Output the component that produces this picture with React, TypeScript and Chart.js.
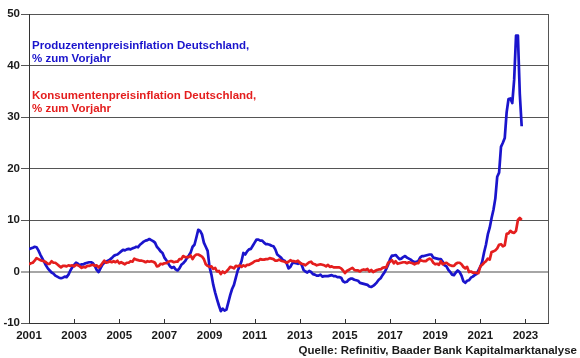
import React, { useEffect, useRef } from "react";
import { Chart, registerables } from "chart.js";

Chart.register(...registerables);

// Monthly year-over-year rates, Jan 2001 .. Nov 2022
const START_YEAR = 2001;

const ppi: number[] = [
  // 2001
  4.3, 4.5, 4.6, 4.8, 4.7, 4.1, 3.3, 2.6, 1.9, 1.2, 0.6, 0.2,
  // 2002
  -0.2, -0.4, -0.8, -1.0, -1.2, -1.3, -1.2, -1.0, -1.1, -0.6, 0.2, 0.8,
  // 2003
  1.3, 1.7, 1.5, 1.2, 1.4, 1.4, 1.6, 1.7, 1.8, 1.8, 1.6, 1.1,
  // 2004
  0.3, -0.1, 0.6, 1.3, 1.7, 1.9, 2.1, 2.3, 2.6, 3.0, 3.2, 3.3,
  // 2005
  3.6, 3.9, 4.2, 4.1, 4.3, 4.4, 4.3, 4.5, 4.6, 4.8, 4.7, 5.2,
  // 2006
  5.5, 5.8, 6.0, 6.1, 6.3, 6.1, 5.9, 5.6, 4.8, 4.4, 3.9, 3.6,
  // 2007
  2.7, 2.2, 1.6, 1.0, 0.7, 0.9, 0.4, 0.2, 0.6, 1.3, 1.6, 2.0,
  // 2008
  2.6, 3.1, 3.7, 4.8, 5.2, 6.6, 8.1, 7.9, 7.2, 5.6, 4.8, 4.0,
  // 2009
  0.9, -0.6, -2.6, -4.1, -5.4, -6.6, -7.7, -7.2, -7.6, -7.4, -6.0, -4.6,
  // 2010
  -3.4, -2.6, -1.2, 0.2, 1.0, 2.0, 3.6, 3.3, 3.9, 4.3, 4.4, 5.0,
  // 2011
  5.6, 6.2, 6.2, 6.0, 6.0, 5.6, 5.3, 5.3, 5.2, 5.0, 4.9, 4.3,
  // 2012
  3.3, 3.0, 2.7, 2.2, 2.1, 1.6, 0.6, 0.9, 1.6, 1.7, 1.6, 1.5,
  // 2013
  1.7, 1.3, 0.3, 0.0, -0.2, 0.1, -0.1, -0.5, -0.6, -0.8, -0.8, -0.6,
  // 2014
  -1.0, -0.9, -0.9, -0.9, -0.8, -0.7, -0.9, -0.9, -1.1, -1.1, -1.2, -1.9,
  // 2015
  -2.1, -2.0, -1.6, -1.4, -1.4, -1.6, -1.7, -1.8, -2.2, -2.3, -2.4, -2.5,
  // 2016
  -2.6, -2.9, -3.0, -2.8, -2.5, -2.1, -1.6, -1.3, -0.7, -0.2, 0.5, 1.3,
  // 2017
  2.4, 3.1, 3.1, 3.2, 2.8, 2.4, 2.5, 2.8, 3.0, 2.7, 2.5, 2.3,
  // 2018
  2.0, 1.8, 1.9, 2.0, 2.7, 3.0, 3.0, 3.1, 3.2, 3.3, 3.3, 2.7,
  // 2019
  2.6, 2.5, 2.4, 2.4, 1.9, 1.2, 1.0, 0.3, -0.1, -0.6, -0.7, -0.2,
  // 2020
  0.2, -0.1, -0.8, -1.9, -2.2, -1.8, -1.7, -1.2, -1.0, -0.7, -0.5, 0.2,
  // 2021
  0.9, 1.9, 3.7, 5.2, 7.2, 8.5, 10.4, 12.0, 14.2, 18.4, 19.2, 24.2,
  // 2022
  25.0, 25.9, 30.9, 33.5, 33.6, 32.7, 37.2, 45.8, 45.8, 34.5, 28.2,
];

const cpi: number[] = [
  // 2001
  1.4, 1.6, 1.7, 2.1, 2.6, 2.4, 2.2, 2.1, 2.0, 1.8, 1.5, 1.5,
  // 2002
  2.0, 1.7, 1.7, 1.4, 1.1, 0.8, 1.1, 1.1, 1.0, 1.2, 1.1, 1.2,
  // 2003
  1.0, 1.3, 1.2, 1.0, 0.7, 0.9, 0.8, 1.1, 1.1, 1.2, 1.3, 1.1,
  // 2004
  1.2, 0.8, 1.1, 1.6, 2.1, 1.7, 1.8, 2.0, 1.8, 2.0, 1.8, 2.1,
  // 2005
  1.6, 1.8, 1.6, 1.4, 1.7, 1.7, 2.0, 1.9, 2.5, 2.3, 2.2, 2.1,
  // 2006
  2.1, 2.0, 1.8, 2.0, 1.9, 2.0, 1.9, 1.7, 1.0, 1.1, 1.5, 1.4,
  // 2007
  1.6, 1.6, 1.9, 2.0, 2.0, 1.8, 1.9, 1.9, 2.4, 2.4, 3.0, 2.8,
  // 2008
  2.8, 2.8, 3.1, 2.4, 3.0, 3.3, 3.3, 3.1, 2.9, 2.4, 1.4, 1.1,
  // 2009
  0.9, 1.0, 0.5, 0.7, 0.0, 0.1, -0.5, 0.0, -0.3, 0.0, 0.4, 0.9,
  // 2010
  0.8, 0.6, 1.1, 1.0, 1.2, 0.9, 1.2, 1.0, 1.3, 1.3, 1.5, 1.7,
  // 2011
  2.0, 2.1, 2.1, 2.4, 2.3, 2.3, 2.4, 2.4, 2.6, 2.5, 2.4, 2.1,
  // 2012
  2.1, 2.3, 2.1, 2.0, 1.9, 1.7, 1.9, 2.2, 2.0, 2.0, 1.9, 2.1,
  // 2013
  1.7, 1.5, 1.4, 1.2, 1.5, 1.8, 1.9, 1.5, 1.4, 1.2, 1.3, 1.4,
  // 2014
  1.3, 1.2, 1.0, 1.3, 0.9, 1.0, 0.8, 0.8, 0.8, 0.8, 0.6, 0.2,
  // 2015
  -0.3, 0.1, 0.3, 0.5, 0.7, 0.3, 0.2, 0.2, 0.0, 0.3, 0.4, 0.3,
  // 2016
  0.5, 0.0, 0.3, -0.1, 0.1, 0.3, 0.4, 0.4, 0.7, 0.8, 0.8, 1.7,
  // 2017
  1.9, 2.2, 1.6, 2.0, 1.5, 1.6, 1.7, 1.8, 1.8, 1.6, 1.8, 1.7,
  // 2018
  1.6, 1.4, 1.6, 1.6, 2.2, 2.1, 2.0, 2.0, 2.3, 2.5, 2.3, 1.7,
  // 2019
  1.4, 1.5, 1.3, 2.0, 1.4, 1.6, 1.7, 1.4, 1.2, 1.1, 1.1, 1.5,
  // 2020
  1.7, 1.7, 1.4, 0.9, 0.6, 0.9, -0.1, 0.0, -0.2, -0.2, -0.3, -0.3,
  // 2021
  1.0, 1.3, 1.7, 2.0, 2.5, 2.3, 3.8, 3.9, 4.1, 4.5, 5.2, 5.3,
  // 2022
  4.9, 5.1, 7.3, 7.4, 7.9, 7.6, 7.5, 7.9, 10.0, 10.4, 10.0,
];

const xTickYears: number[] = [2001, 2003, 2005, 2007, 2009, 2011, 2013, 2015, 2017, 2019, 2021, 2023];
const yTicks: number[] = [-10, 0, 10, 20, 30, 40, 50];

const ppiLabel = ["Produzentenpreisinflation Deutschland,", "% zum Vorjahr"];
const cpiLabel = ["Konsumentenpreisinflation Deutschland,", "% zum Vorjahr"];
const sourceText = "Quelle: Refinitiv, Baader Bank Kapitalmarktanalyse";

const BLUE = "#1a14cc";
const RED = "#e41e1e";
const FONT = "'Liberation Sans', Arial, sans-serif";

const toPoints = (arr: number[]) => arr.map((v, i) => ({ x: START_YEAR + i / 12, y: v }));

const decorPlugin = {
  id: "decor",
  afterDraw(chart: any) {
    const { ctx, chartArea, scales } = chart;
    const x = scales.x;
    ctx.save();
    ctx.strokeStyle = "#555555";
    ctx.lineWidth = 1;
    // right border
    ctx.beginPath();
    const rx = Math.round(chartArea.right) + 0.5;
    ctx.moveTo(rx, chartArea.top);
    ctx.lineTo(rx, chartArea.bottom);
    ctx.stroke();
    // inside tick marks on the x axis
    ctx.strokeStyle = "#333333";
    x.ticks.forEach((t: any) => {
      const px = Math.round(x.getPixelForValue(t.value)) + 0.5;
      ctx.beginPath();
      ctx.moveTo(px, chartArea.bottom);
      ctx.lineTo(px, chartArea.bottom - 4);
      ctx.stroke();
    });
    // annotations
    ctx.font = `bold 11.5px ${FONT}`;
    ctx.textAlign = "left";
    ctx.textBaseline = "alphabetic";
    ctx.fillStyle = BLUE;
    ctx.fillText(ppiLabel[0], 32, 49);
    ctx.fillText(ppiLabel[1], 32, 62);
    ctx.fillStyle = RED;
    ctx.fillText(cpiLabel[0], 32, 99);
    ctx.fillText(cpiLabel[1], 32, 112);
    // source
    ctx.fillStyle = "#1a1a1a";
    ctx.textAlign = "right";
    ctx.fillText(sourceText, 577, 354);
    ctx.restore();
  },
};

export default function App() {
  const ref = useRef<HTMLCanvasElement | null>(null);

  useEffect(() => {
    if (!ref.current) return;
    const chart = new Chart(ref.current, {
      type: "line",
      data: {
        datasets: [
          {
            label: "PPI",
            data: toPoints(ppi),
            borderColor: BLUE,
            borderWidth: 2.7,
            pointRadius: 0,
            tension: 0,
            borderJoinStyle: "round",
            order: 2,
          },
          {
            label: "CPI",
            data: toPoints(cpi),
            borderColor: RED,
            borderWidth: 2.7,
            pointRadius: 0,
            tension: 0,
            borderJoinStyle: "round",
            order: 1,
          },
        ],
      },
      options: {
        responsive: false,
        animation: false,
        devicePixelRatio: 1,
        layout: { padding: { top: 14, right: 32, bottom: 0, left: 0 } },
        plugins: {
          legend: { display: false },
          tooltip: { enabled: false },
        },
        scales: {
          x: {
            type: "linear",
            min: 2001,
            max: 2024,
            afterBuildTicks: (scale: any) => {
              scale.ticks = xTickYears.map((v) => ({ value: v }));
            },
            afterFit: (scale: any) => {
              scale.height = 35;
            },
            grid: { display: true, drawOnChartArea: false, drawTicks: false },
            border: { display: true, color: "#333333", width: 1 },
            ticks: {
              padding: 6,
              maxRotation: 0,
              autoSkip: false,
              color: "#1a1a1a",
              font: { family: FONT, size: 11.5, weight: "bold" },
              callback: (v: any) => String(v),
            },
          },
          y: {
            min: -10,
            max: 50,
            afterBuildTicks: (scale: any) => {
              scale.ticks = yTicks.map((v) => ({ value: v }));
            },
            afterFit: (scale: any) => {
              scale.width = 29;
            },
            grid: {
              color: (c: any) => (c.tick && c.tick.value === 0 ? "#a6a6a6" : "#555555"),
              lineWidth: (c: any) => (c.tick && c.tick.value === 0 ? 2 : 1),
              tickColor: (c: any) => (c.tick && c.tick.value === 0 ? "#a6a6a6" : "#555555"),
              tickLength: 8,
            },
            border: { display: true, color: "#333333", width: 1 },
            ticks: {
              padding: 1,
              color: "#1a1a1a",
              font: { family: FONT, size: 11.5, weight: "bold" },
              callback: (v: any) => String(v),
            },
          },
        },
      },
      plugins: [decorPlugin],
    } as any);
    return () => chart.destroy();
  }, []);

  return (
    <div style={{ position: "fixed", left: 0, top: 0, width: 580, height: 358, background: "#ffffff" }}>
      <canvas ref={ref} width={580} height={358} style={{ width: 580, height: 358, display: "block" }} />
    </div>
  );
}
